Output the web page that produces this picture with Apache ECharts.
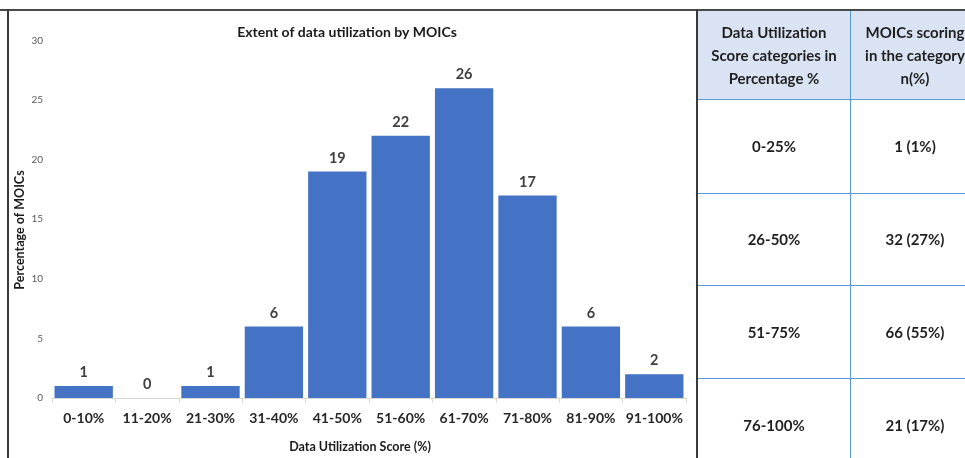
<!DOCTYPE html>
<html>
<head>
<meta charset="utf-8">
<script src="https://cdn.jsdelivr.net/npm/echarts@6/dist/echarts.min.js"></script>
<style>
  html, body { margin: 0; padding: 0; background: #fff; }
  #wrap { position: relative; width: 965px; height: 458px; overflow: hidden; background: #fff; }
  #chart { position: absolute; left: 0; top: 0; width: 965px; height: 458px; }
  #topline { position: absolute; left: 0; top: 9px; width: 965px; height: 2px; background: #4a4a4a; }
  #leftline { position: absolute; left: 7px; top: 9px; width: 2px; height: 449px; background: #3a3a3a; }
  #midline { position: absolute; left: 696px; top: 9px; width: 2px; height: 449px; background: #3a3a3a; }
  #tbl { position: absolute; left: 698px; top: 11px; width: 280px; table-layout: fixed; border-collapse: collapse; font-family: Lato, "Liberation Sans", sans-serif; font-weight: bold; font-size: 15px; color: #1f1f1f; }
  #tbl td { border: 1.5px solid #5b9bd5; text-align: center; vertical-align: middle; padding: 0; line-height: 23px; white-space: nowrap; }
  #tbl tr.head td { background: #dae3f3; height: 88px; border-top: none; }
  #tbl td.c1 { width: 152px; border-left: none; }
  #tbl td.c2 { width: 128px; }
</style>
</head>
<body>
<div id="wrap">
  <div id="chart"></div>
  <div id="topline"></div>
  <div id="leftline"></div>
  <div id="midline"></div>
  <table id="tbl"></table>
</div>
<script>
// Histogram: share of MOICs per data-utilization score band
const categories = ['0-10%', '11-20%', '21-30%', '31-40%', '41-50%', '51-60%', '61-70%', '71-80%', '81-90%', '91-100%'];
const percentages = [1, 0, 1, 6, 19, 22, 26, 17, 6, 2];

// Summary table next to the chart
const tableHeaders = [['Data Utilization', 'Score categories in', 'Percentage %'], ['MOICs scoring', 'in the category', 'n(%)']];
const scoreBands = ['0-25%', '26-50%', '51-75%', '76-100%'];
const moicCounts = ['1 (1%)', '32 (27%)', '66 (55%)', '21 (17%)'];
const rowHeights = [93, 91, 92, 92];

const FONT = 'Lato, "Liberation Sans", sans-serif';

const chart = echarts.init(document.getElementById('chart'));
chart.setOption({
  animation: false,
  title: {
    text: 'Extent of data utilization by MOICs',
    left: 342,
    top: 20,
    textAlign: 'center',
    textStyle: { fontFamily: FONT, fontWeight: 'bold', fontSize: 14, color: '#1a1a1a' }
  },
  // rotated y-axis caption, placed by hand next to the tick labels
  graphic: [{
    type: 'text',
    x: 20,
    y: 230,
    rotation: Math.PI / 2,
    style: {
      text: 'Percentage of MOICs',
      fill: '#1a1a1a',
      font: 'bold 12.5px ' + FONT,
      textAlign: 'center',
      textVerticalAlign: 'middle'
    }
  }],
  grid: { left: 52, right: 279, top: 40.5, bottom: 53, containLabel: false },
  xAxis: {
    type: 'category',
    data: categories,
    name: 'Data Utilization Score (%)',
    nameLocation: 'middle',
    nameGap: 42,
    nameTextStyle: { fontFamily: FONT, fontWeight: 'bold', fontSize: 12.5, color: '#1a1a1a', padding: [0, 18, 0, 0] },
    axisLine: { lineStyle: { color: '#d9d9d9', width: 1 } },
    axisTick: { show: true, length: 5, lineStyle: { color: '#d9d9d9' } },
    axisLabel: { fontFamily: FONT, fontWeight: 'bold', fontSize: 14, color: '#262626', margin: 13, interval: 0 }
  },
  yAxis: {
    type: 'value',
    min: 0,
    max: 30,
    interval: 5,
    axisLine: { show: false },
    axisTick: { show: false },
    splitLine: { show: false },
    axisLabel: { fontFamily: FONT, fontSize: 10, color: '#595959', margin: 9 }
  },
  series: [{
    type: 'bar',
    data: percentages,
    barCategoryGap: '8%',
    itemStyle: { color: '#4472c4' },
    label: {
      show: true,
      position: 'top',
      distance: 6,
      fontFamily: FONT,
      fontWeight: 'bold',
      fontSize: 14.5,
      color: '#404040'
    }
  }]
});

// Build the summary table
const tbl = document.getElementById('tbl');
const head = document.createElement('tr');
head.className = 'head';
tableHeaders.forEach((lines, i) => {
  const td = document.createElement('td');
  td.className = i === 0 ? 'c1' : 'c2';
  td.innerHTML = lines.join('<br>');
  head.appendChild(td);
});
tbl.appendChild(head);
scoreBands.forEach((band, r) => {
  const tr = document.createElement('tr');
  [band, moicCounts[r]].forEach((txt, i) => {
    const td = document.createElement('td');
    td.className = i === 0 ? 'c1' : 'c2';
    td.style.height = rowHeights[r] + 'px';
    td.textContent = txt;
    tr.appendChild(td);
  });
  tbl.appendChild(tr);
});
</script>
</body>
</html>
